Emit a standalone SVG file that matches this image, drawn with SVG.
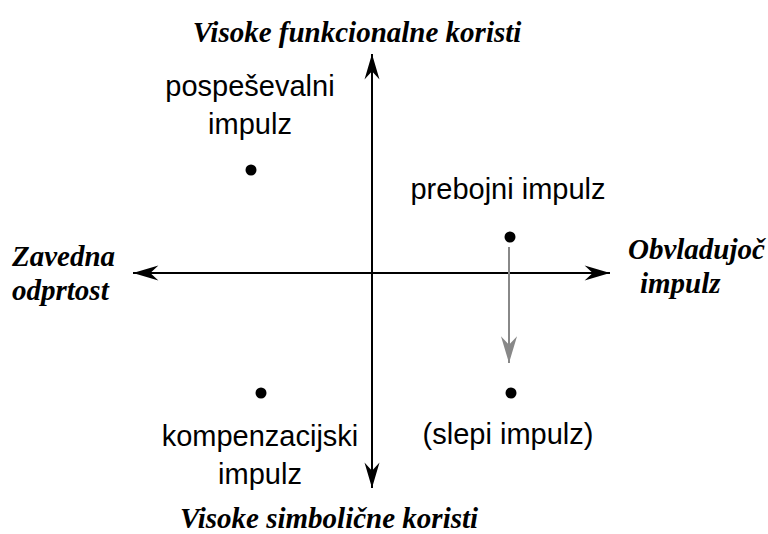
<svg xmlns="http://www.w3.org/2000/svg" width="768" height="534" viewBox="0 0 768 534">
<style>
.ax{stroke:#000;stroke-width:2;fill:none}
.gr{stroke:#888;stroke-width:2;fill:none}
.lbl{font-family:"Liberation Sans",Arial,sans-serif;font-size:29px;fill:#000;text-anchor:middle}
.ttl{font-family:"Liberation Serif","Times New Roman",serif;font-size:29px;font-weight:bold;font-style:italic;fill:#000}
.dot{fill:#000}
</style>
<defs>
<marker id="ah" markerUnits="userSpaceOnUse" markerWidth="30" markerHeight="20" viewBox="-24 -8 26 16" refX="0" refY="0" orient="auto">
<path d="M0,0 L-22,-6.5 L-15,0 L-22,6.5 Z" fill="#000"/>
</marker>
<marker id="ahg" markerUnits="userSpaceOnUse" markerWidth="30" markerHeight="20" viewBox="-26 -9 28 18" refX="0" refY="0" orient="auto">
<path d="M0,0 L-25,-7.5 L-17,0 L-25,7.5 Z" fill="#888"/>
</marker>
</defs>
<g id="connectors">
<line class="ax" x1="372" y1="273" x2="372" y2="54" marker-end="url(#ah)"/>
<line class="ax" x1="372" y1="273" x2="372" y2="488" marker-end="url(#ah)"/>
<line class="ax" x1="372" y1="273" x2="133" y2="273" marker-end="url(#ah)"/>
<line class="ax" x1="372" y1="273" x2="610" y2="273" marker-end="url(#ah)"/>
<line class="gr" x1="509" y1="247" x2="509" y2="363" marker-end="url(#ahg)"/>
</g>
<g id="axis-top"><text class="ttl" x="357" y="42" text-anchor="middle">Visoke funkcionalne koristi</text></g>
<g id="axis-bottom"><text class="ttl" x="180" y="528">Visoke simbolične koristi</text></g>
<g id="axis-left"><text class="ttl" x="12" y="266">Zavedna</text><text class="ttl" x="12" y="300">odprtost</text></g>
<g id="axis-right"><text class="ttl" x="628" y="259">Obvladujoč</text><text class="ttl" x="640" y="293">impulz</text></g>
<g id="n-pospesevalni"><text class="lbl" x="250" y="96">pospeševalni</text><text class="lbl" x="250" y="134">impulz</text><circle class="dot" cx="251" cy="170" r="5.5"/></g>
<g id="n-prebojni"><text class="lbl" x="508" y="199">prebojni impulz</text><circle class="dot" cx="510" cy="237" r="5.5"/></g>
<g id="n-kompenzacijski"><circle class="dot" cx="261" cy="393" r="5.5"/><text class="lbl" x="260" y="446">kompenzacijski</text><text class="lbl" x="260" y="484">impulz</text></g>
<g id="n-slepi"><circle class="dot" cx="511" cy="393" r="5.5"/><text class="lbl" x="508" y="444">(slepi impulz)</text></g>
</svg>
